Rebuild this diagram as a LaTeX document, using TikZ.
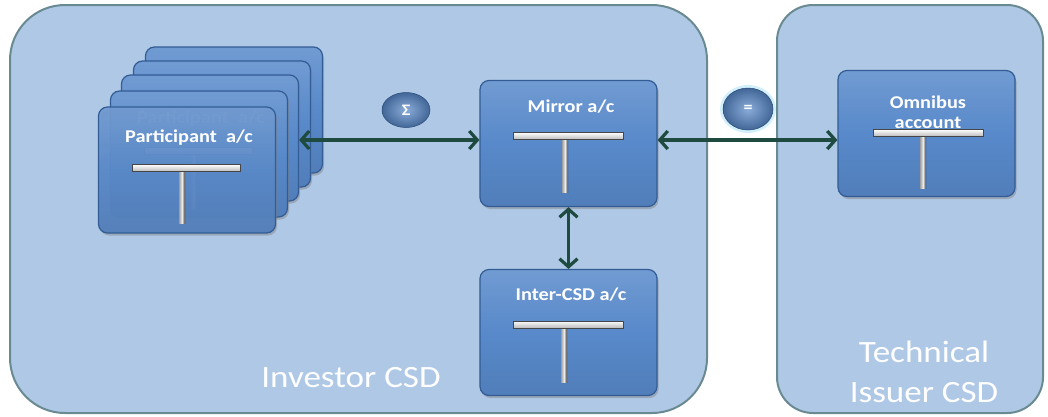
\documentclass[tikz,border=0pt]{standalone}
\usepackage{fontspec}
\setmainfont{Carlito}[FakeStretch=1.13]
\usetikzlibrary{arrows.meta,shapes.geometric,shadows}
\definecolor{contfill}{HTML}{AEC8E6}
\definecolor{contline}{HTML}{6A8A92}
\definecolor{boxfill}{HTML}{5889CA}
\definecolor{boxline}{HTML}{325C93}
\definecolor{arrowc}{HTML}{1E4A40}
\newcommand\tmark[5]{%
  \shade[left color=gray!75, right color=gray!45!black, middle color=gray!15] (#5-3,#3) rectangle (#5+3,#4);
  \shade[top color=white, bottom color=gray!55, draw=gray!55!black, line width=0.4pt] (#1,#3-3.5) rectangle (#2,#3+3.5);}
\begin{document}
\begin{tikzpicture}[x=1pt,y=-1pt,
  cont/.style={rectangle, draw=contline, line width=2pt, fill=contfill, inner sep=0pt},
  acct/.style={rectangle, rounded corners=9pt, draw=boxline, line width=1.2pt,
    top color=boxfill!85!white, bottom color=boxfill!92!black, middle color=boxfill,
    minimum width=177pt, minimum height=126pt, inner sep=0pt,
    drop shadow={shadow xshift=1.5pt, shadow yshift=-2.5pt, opacity=0.45}},
  ball/.style={ellipse, inner color=boxfill!70!white, outer color=boxfill!75!black,
    draw=boxline!80!black, line width=0.5pt, text=white, inner sep=0pt,
    font=\bfseries\fontsize{16}{18}\selectfont},
  lbl/.style={text=white, font=\bfseries\fontsize{18}{21}\selectfont, anchor=base, inner sep=0pt},
  big/.style={text=white, font=\fontsize{31}{40}\selectfont, anchor=base, inner sep=0pt},
  arr/.style={draw=arrowc, line width=3.2pt,
    {Straight Barb[length=8pt,width=18pt]}-{Straight Barb[length=8pt,width=18pt]}}]
\useasboundingbox (0,0) rectangle (1048,416);
\clip (0,0) rectangle (1048,416);
% containers
\node[cont, rounded corners=55pt, minimum width=697pt, minimum height=408pt] (inv) at (358.5,209) {};
\node[cont, rounded corners=36pt, minimum width=266pt, minimum height=408pt] (tech) at (910,209) {};
\node[big] (invlbl) at (351,387) {Investor CSD};
\node[big] (techlbl1) at (924,362) {Technical};
\node[big] (techlbl2) at (924,402) {Issuer CSD};
% participant stack
\node[acct] (p4) at (234,110) {};
\node[acct] (p3) at (222,124) {};
\node[acct] (p2) at (210,138) {};
\node[acct] (p1) at (199,154) {};
\node[lbl, opacity=0.9] (p1lbl) at (201,123) {Participant\ \ a/c};
\tmark{144}{252}{151}{208}{194}
\node[acct, fill opacity=0.93] (p0) at (187,170) {};
\node[lbl] (p0lbl) at (189,142) {Participant\ \ a/c};
\tmark{132}{240}{168}{223}{182}
% mirror
\node[acct] (mirror) at (568.5,143.5) {};
\node[lbl] (mirlbl) at (571,112) {Mirror a/c};
\tmark{513}{623}{136}{192}{565}
% inter-CSD
\node[acct] (inter) at (568.5,332.5) {};
\node[lbl] (intlbl) at (571,300) {Inter-CSD a/c};
\tmark{513}{623}{324.5}{382}{564}
% omnibus
\node[acct] (omni) at (926.5,133.5) {};
\node[lbl] (omlbl1) at (928,108) {Omnibus};
\node[lbl] (omlbl2) at (928,128) {account};
\tmark{873}{983}{133}{188}{923}
% circles
\fill[cyan!25!white, opacity=0.7] (748,109) ellipse (28pt and 24pt);
\node[ball, minimum width=48pt, minimum height=35pt] (sigma) at (406,110) {Σ};
\node[ball, minimum width=50pt, minimum height=42pt] (eq) at (748,109) {=};
% connectors
\coordinate (ay) at (0,140);
\draw[arr] (p2.east |- ay) -- (mirror.west |- ay);
\draw[arr] (mirror.east |- ay) -- (omni.west |- ay);
\draw[arr] (mirror.south) -- (inter.north);
\end{tikzpicture}
\end{document}
